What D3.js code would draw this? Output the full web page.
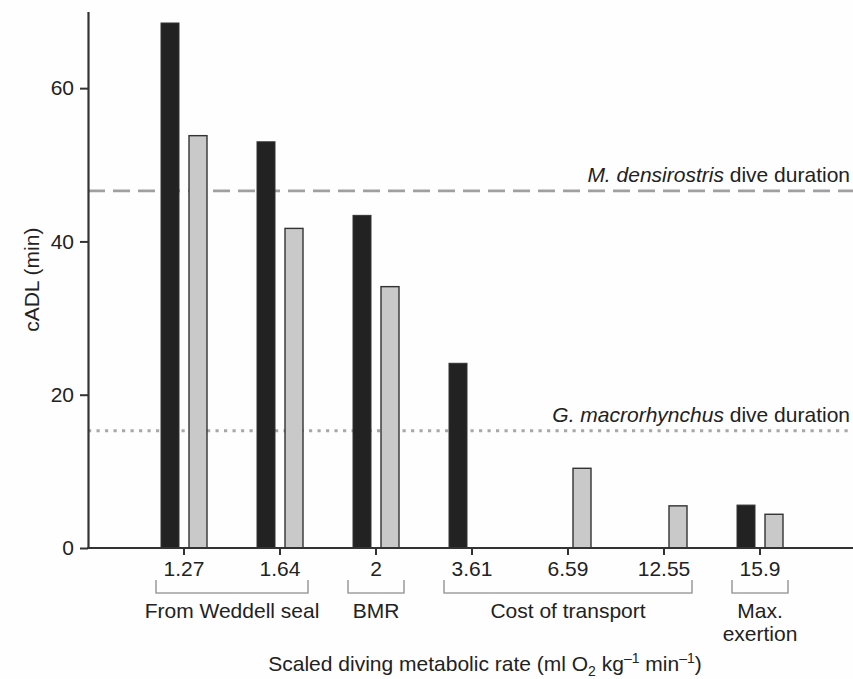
<!DOCTYPE html>
<html>
<head>
<meta charset="utf-8">
<script src="https://cdn.jsdelivr.net/npm/d3@7"></script>
<style>
  body { margin: 0; background: #fefefe; }
  svg { display: block; font-family: "Liberation Sans", Arial, sans-serif; }
</style>
</head>
<body>
<script>
// metabolic rates (x categories) and cADL values (min)
var rates = ["1.27", "1.64", "2", "3.61", "6.59", "12.55", "15.9"];
var blackValues = [68.5, 53.0, 43.4, 24.1, null, null, 5.6];
var grayValues = [53.8, 41.7, 34.1, null, 10.4, 5.5, 4.4];
var yTicks = [0, 20, 40, 60];

// grouping brackets under the x axis
var groupNames = [["From Weddell seal"], ["BMR"], ["Cost of transport"], ["Max.", "exertion"]];
var groupFirst = ["1.27", "2", "3.61", "15.9"];
var groupLast = ["1.64", "2", "12.55", "15.9"];

// reference dive durations
var refNames = ["M. densirostris", "G. macrorhynchus"];
var refValues = [46.6, 15.3];

(function () {
  var width = 853;
  var height = 679;
  var left = 88, bottom = 548, plotTop = 11.5;
  var fs = "21px";

  var svg = d3.select("body")
    .append("svg")
    .attr("width", width)
    .attr("height", height);

  var x = d3.scaleBand()
    .domain(rates)
    .range([left + 48, left + 48 + 96 * rates.length]);

  var inner = d3.scaleBand()
    .domain(["black", "gray"])
    .range([-23, 23])
    .paddingInner(10 / 28);

  var y = d3.scaleLinear()
    .domain([0, 70])
    .range([bottom, plotTop]);

  function cx(r) { return x(r) + x.bandwidth() / 2; }

  // reference lines (drawn under bars)
  svg.append("line")
    .attr("x1", left).attr("x2", width)
    .attr("y1", y(refValues[0])).attr("y2", y(refValues[0]))
    .style("stroke", "#a0a0a0")
    .style("stroke-width", 2.6)
    .style("stroke-dasharray", "17,8");

  svg.append("line")
    .attr("x1", left).attr("x2", width)
    .attr("y1", y(refValues[1])).attr("y2", y(refValues[1]))
    .style("stroke", "#a8a8a8")
    .style("stroke-width", 3.2)
    .style("stroke-dasharray", "3.2,5.3");

  // bars
  var blackData = rates.map(function (r, i) { return { r: r, v: blackValues[i] }; })
    .filter(function (d) { return d.v != null; });
  var grayData = rates.map(function (r, i) { return { r: r, v: grayValues[i] }; })
    .filter(function (d) { return d.v != null; });

  svg.selectAll("rect.black")
    .data(blackData)
    .enter()
    .append("rect")
    .attr("class", "black")
    .attr("x", function (d) { return cx(d.r) + inner("black"); })
    .attr("width", inner.bandwidth())
    .attr("y", function (d) { return y(d.v); })
    .attr("height", function (d) { return y(0) - y(d.v); })
    .style("fill", "#222")
    .style("stroke", "#333")
    .style("stroke-width", 1);

  svg.selectAll("rect.gray")
    .data(grayData)
    .enter()
    .append("rect")
    .attr("class", "gray")
    .attr("x", function (d) { return cx(d.r) + inner("gray"); })
    .attr("width", inner.bandwidth())
    .attr("y", function (d) { return y(d.v); })
    .attr("height", function (d) { return y(0) - y(d.v); })
    .style("fill", "#c9c9c9")
    .style("stroke", "#333")
    .style("stroke-width", 1.4);

  // reference labels
  refNames.forEach(function (name, i) {
    var t = svg.append("text")
      .attr("x", 850)
      .attr("y", y(refValues[i]) - 8.5)
      .attr("text-anchor", "end")
      .style("font-size", fs)
      .style("fill", "#222");
    t.append("tspan").style("font-style", "italic").text(name);
    t.append("tspan").text(" dive duration");
  });

  // y axis
  var yAxis = svg.append("g")
    .attr("transform", "translate(" + left + ",0)")
    .call(d3.axisLeft(y).tickValues(yTicks).tickSize(8).tickSizeOuter(0).tickPadding(6));
  yAxis.attr("font-family", null).attr("font-size", null);
  yAxis.select(".domain").style("stroke", "#333").style("stroke-width", 2.2);
  yAxis.selectAll(".tick line").style("stroke", "#333").style("stroke-width", 2);
  yAxis.selectAll("text").style("font-size", fs).style("fill", "#222");

  // x axis
  svg.append("line")
    .attr("x1", left - 1).attr("x2", width)
    .attr("y1", bottom).attr("y2", bottom)
    .style("stroke", "#333")
    .style("stroke-width", 2.2);

  var xAxis = svg.append("g")
    .attr("transform", "translate(0," + bottom + ")")
    .call(d3.axisBottom(x).tickSize(7).tickSizeOuter(0).tickPadding(6));
  xAxis.attr("font-family", null).attr("font-size", null);
  xAxis.select(".domain").remove();
  xAxis.selectAll(".tick line").style("stroke", "#333").style("stroke-width", 2);
  xAxis.selectAll("text").style("font-size", fs).style("fill", "#222");

  // group brackets
  groupNames.forEach(function (lines, i) {
    var x0 = cx(groupFirst[i]) - 28;
    var x1 = cx(groupLast[i]) + 28;
    svg.append("path")
      .attr("d", "M" + x0 + ",580V593H" + x1 + "V580")
      .style("fill", "none")
      .style("stroke", "#a0a0a0")
      .style("stroke-width", 1.6);
    lines.forEach(function (line, j) {
      svg.append("text")
        .attr("x", (x0 + x1) / 2)
        .attr("y", 618 + j * 23)
        .attr("text-anchor", "middle")
        .style("font-size", fs)
        .style("fill", "#222")
        .text(line);
    });
  });

  // axis titles
  svg.append("text")
    .attr("transform", "translate(39," + (plotTop + bottom) / 2 + ") rotate(-90)")
    .attr("text-anchor", "middle")
    .style("font-size", fs)
    .style("fill", "#222")
    .text("cADL (min)");

  var xt = svg.append("text")
    .attr("x", 485)
    .attr("y", 671)
    .attr("text-anchor", "middle")
    .style("font-size", fs)
    .style("fill", "#222");
  xt.append("tspan").text("Scaled diving metabolic rate (ml O");
  xt.append("tspan").attr("dy", 5).style("font-size", "14px").text("2");
  xt.append("tspan").attr("dy", -5).text(" kg");
  xt.append("tspan").attr("dy", -8).style("font-size", "14px").text("–1");
  xt.append("tspan").attr("dy", 8).text(" min");
  xt.append("tspan").attr("dy", -8).style("font-size", "14px").text("–1");
  xt.append("tspan").attr("dy", 8).text(")");
})();
</script>
</body>
</html>
